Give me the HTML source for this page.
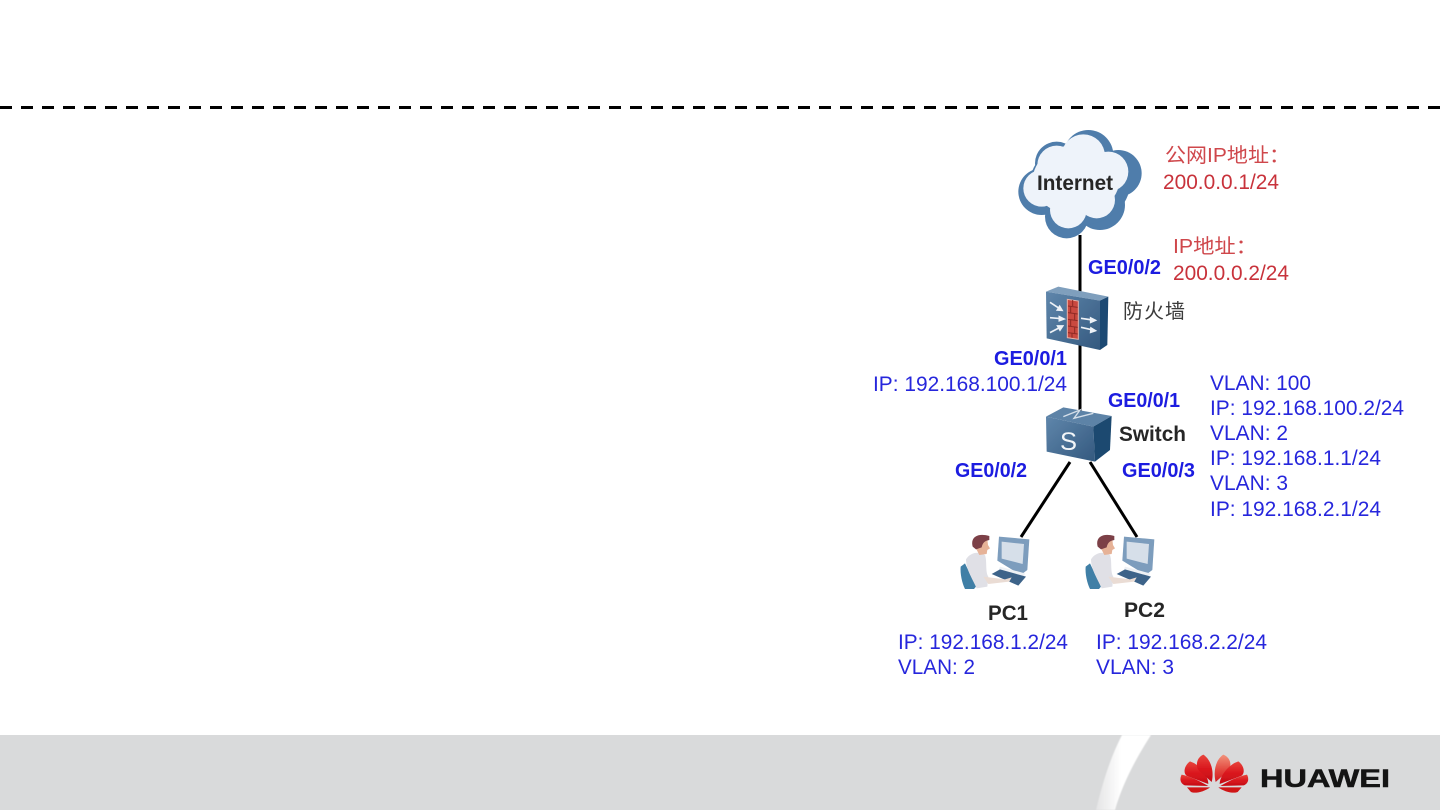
<!DOCTYPE html>
<html lang="zh">
<head>
<meta charset="utf-8">
<title>Network diagram</title>
<style>
html,body{margin:0;padding:0;background:#fff;width:1440px;height:810px;overflow:hidden}
svg{display:block}
text{font-family:"Liberation Sans","Noto Sans CJK SC",sans-serif}
.b{fill:#2626dc;font-size:21px}
.g{fill:#1a1ae0;font-size:20px;font-weight:bold}
.r{fill:#c8323a;font-size:21px}
.c{fill:#cf474c;font-size:20px}
.k{fill:#262626;font-size:21px;font-weight:bold}
</style>
</head>
<body>
<svg width="1440" height="810" viewBox="0 0 1440 810" xmlns="http://www.w3.org/2000/svg">
<defs>
<linearGradient id="front" x1="0" y1="0" x2="1" y2="1"><stop offset="0" stop-color="#5f86ab"/><stop offset="1" stop-color="#34597f"/></linearGradient>
<linearGradient id="red" x1="0" y1="0" x2="0" y2="1"><stop offset="0" stop-color="#e8453c"/><stop offset=".55" stop-color="#d9141c"/><stop offset="1" stop-color="#c40f17"/></linearGradient>
<linearGradient id="peach" x1="0" y1="0" x2="0" y2="1"><stop offset="0" stop-color="#f2937c"/><stop offset=".6" stop-color="#e2413a"/><stop offset="1" stop-color="#d01a20"/></linearGradient>
<linearGradient id="stripe" x1="0" y1="0" x2="1" y2="0"><stop offset="0" stop-color="#e4e4e5"/><stop offset=".45" stop-color="#ffffff"/><stop offset="1" stop-color="#ffffff"/></linearGradient>
<filter id="s" x="-5%" y="-5%" width="110%" height="110%"><feGaussianBlur stdDeviation="0.45"/></filter>
<filter id="t" x="-5%" y="-5%" width="110%" height="110%"><feGaussianBlur stdDeviation="0.3"/></filter>
<g id="pc">
  <path d="M32,140 L45,130 L78,200 L72,207 L45,207 C36,190 30,160 32,140Z" fill="#3f7fa6"/>
  <path d="M48,118 C60,98 85,92 105,105 C112,125 105,155 115,170 L112,200 L80,205 C70,180 48,150 48,118Z" fill="#e0e0e6"/>
  <path d="M147,50 L238,58 L232,150 L212,165 L142,122Z" fill="#7d9dbd"/>
  <path d="M155,65 L222,72 L218,132 L155,116Z" fill="#d6dfe9"/>
  <path d="M150,140 L225,160 L222,170 L146,150Z" fill="#eef1f5"/>
  <path d="M125,162 L150,148 L228,170 L205,197Z" fill="#3d6489"/>
  <path d="M100,170 L165,178 L185,172 L178,185 L115,192Z" fill="#eadcd4"/>
  <path d="M88,60 L112,58 L114,75 L120,85 L112,90 L110,102 L88,105 L78,85Z" fill="#e6b297"/>
  <path d="M68,80 C60,50 85,38 118,48 L118,60 C105,62 98,68 95,82 L78,88Z" fill="#7c3f46"/>
</g>
</defs>

<!-- top dashed rule -->
<line x1="0" y1="107.5" x2="1440" y2="107.5" stroke="#000" stroke-width="3" stroke-dasharray="12 9"/>

<!-- footer -->
<rect x="0" y="735" width="1440" height="75" fill="#d9dadb"/>
<path d="M1122,735 L1151,735 C1136,758 1122,785 1115,810 L1096,810 C1102,785 1110,758 1122,735Z" fill="url(#stripe)" filter="url(#s)"/>

<!-- logo -->
<g transform="translate(1175,748) scale(.3333)" filter="url(#s)">
  <path d="M36,118 L105,118 C90,130 60,138 48,132Z" fill="#cf1219"/>
  <path d="M20,80 C12,95 18,108 30,112 L100,114 C75,100 45,85 20,80Z" fill="url(#red)"/>
  <path d="M45,40 C25,55 25,78 36,84 L100,108 C100,85 75,50 45,40Z" fill="url(#red)"/>
  <path d="M85,20 C62,30 62,58 72,68 L110,102 C118,70 108,35 85,20Z" fill="url(#red)"/>
  <path d="M145,20 C170,30 170,58 160,68 L122,102 C114,70 122,35 145,20Z" fill="url(#peach)"/>
  <path d="M190,40 C210,55 210,78 198,84 L134,108 C134,85 160,50 190,40Z" fill="url(#red)"/>
  <path d="M216,80 C224,95 218,108 206,112 L136,114 C160,100 190,85 216,80Z" fill="url(#red)"/>
  <path d="M200,118 L130,118 C145,130 175,138 188,132Z" fill="#cf1219"/>
</g>
<text x="1260" y="787" font-size="25" font-weight="bold" fill="#141414" stroke="#141414" stroke-width=".5" textLength="130" lengthAdjust="spacingAndGlyphs">HUAWEI</text>

<!-- connectors -->
<line x1="1080" y1="235" x2="1080" y2="292" stroke="#000" stroke-width="3"/>
<line x1="1080" y1="345" x2="1080" y2="412" stroke="#000" stroke-width="3"/>
<line x1="1070" y1="462" x2="1021" y2="537" stroke="#000" stroke-width="3"/>
<line x1="1090" y1="462" x2="1137" y2="537" stroke="#000" stroke-width="3"/>

<!-- cloud: union of lobes -->
<g transform="translate(1000,120) scale(.3333)" filter="url(#s)">
  <g fill="#4f7dab">
    <circle cx="125" cy="215" r="70"/><circle cx="170" cy="130" r="65"/><circle cx="265" cy="105" r="75"/>
    <circle cx="355" cy="160" r="70"/><circle cx="300" cy="255" r="75"/><circle cx="200" cy="290" r="65"/>
    <ellipse cx="240" cy="190" rx="150" ry="125"/>
  </g>
  <g fill="#eef3fa">
    <circle cx="125" cy="205" r="55"/><circle cx="170" cy="135" r="58"/><circle cx="250" cy="108" r="65"/>
    <circle cx="325" cy="155" r="60"/><circle cx="290" cy="240" r="55"/><circle cx="205" cy="270" r="55"/>
    <ellipse cx="228" cy="180" rx="130" ry="105"/>
  </g>
</g>

<!-- firewall -->
<g transform="translate(1000,270) scale(.3333)" filter="url(#s)">
  <path d="M138,65 L175,50 L325,80 L300,92Z" fill="#7f9fbd"/>
  <path d="M138,65 L300,92 L300,240 L140,205Z" fill="url(#front)"/>
  <path d="M300,92 L325,80 L322,225 L300,240Z" fill="#1f4a73"/>
  <path d="M202,88 L235,93 L235,208 L202,203Z" fill="#c9483f" stroke="#e7b3a8" stroke-width="3"/>
  <g stroke="#8f2a25" stroke-width="3" fill="none">
    <path d="M204,108 L233,112 M204,128 L233,132 M204,148 L233,152 M204,168 L233,172 M204,188 L233,192"/>
    <path d="M218,90 V108 M212,110 V128 M224,131 V150 M212,150 V168 M224,172 V190 M216,190 V203"/>
  </g>
  <g stroke="#eef2f7" stroke-width="5" fill="#eef2f7">
    <path d="M150,97 L182,118" fill="none"/><path d="M186,121 L172,120 L179,109Z"/>
    <path d="M150,143 L185,146" fill="none"/><path d="M192,147 L178,152 L178,140Z"/>
    <path d="M150,188 L180,172" fill="none"/><path d="M188,168 L180,180 L173,168Z"/>
    <path d="M243,145 L278,150" fill="none"/><path d="M286,151 L272,157 L272,144Z"/>
    <path d="M243,172 L278,180" fill="none"/><path d="M286,182 L272,187 L273,174Z"/>
  </g>
</g>

<!-- switch -->
<g transform="translate(1000,270) scale(.3333)" filter="url(#s)">
  <path d="M138,440 L190,412 L335,438 L280,470Z" fill="#5d83a7"/>
  <path d="M138,440 L280,470 L285,575 L140,545Z" fill="url(#front)"/>
  <path d="M280,470 L335,438 L330,540 L285,575Z" fill="#1d4970"/>
  <path d="M190,440 L240,420 L222,445 L280,430" fill="none" stroke="#d5dfe9" stroke-width="4"/>
</g>

<!-- PCs -->
<g transform="translate(950,520) scale(.3333)" filter="url(#s)"><use href="#pc"/></g>
<g transform="translate(1075,520) scale(.3333)" filter="url(#s)"><use href="#pc"/></g>

<g filter="url(#t)">
<text x="1060" y="450" font-size="25" fill="#f2f5f8" textLength="17" lengthAdjust="spacingAndGlyphs">S</text>
<text x="1037" y="190" class="k" textLength="76" lengthAdjust="spacingAndGlyphs">Internet</text>

<!-- red labels -->
<text x="1165" y="162" class="c" textLength="125" lengthAdjust="spacingAndGlyphs">公网IP地址：</text>
<text x="1163" y="189" class="r" textLength="116" lengthAdjust="spacingAndGlyphs">200.0.0.1/24</text>
<text x="1173" y="253" class="c" textLength="84" lengthAdjust="spacingAndGlyphs">IP地址：</text>
<text x="1173" y="280" class="r" textLength="116" lengthAdjust="spacingAndGlyphs">200.0.0.2/24</text>

<!-- port labels -->
<text x="1088" y="274" class="g" textLength="73" lengthAdjust="spacingAndGlyphs">GE0/0/2</text>
<text x="994" y="365" class="g" textLength="73" lengthAdjust="spacingAndGlyphs">GE0/0/1</text>
<text x="1108" y="407" class="g" textLength="72" lengthAdjust="spacingAndGlyphs">GE0/0/1</text>
<text x="955" y="477" class="g" textLength="72" lengthAdjust="spacingAndGlyphs">GE0/0/2</text>
<text x="1122" y="477" class="g" textLength="73" lengthAdjust="spacingAndGlyphs">GE0/0/3</text>

<!-- device labels -->
<text x="1123" y="318" fill="#3a3a3a" font-size="20" textLength="62">防火墙</text>
<text x="1119" y="441" class="k" textLength="67" lengthAdjust="spacingAndGlyphs">Switch</text>
<text x="988" y="620" class="k" textLength="40" lengthAdjust="spacingAndGlyphs">PC1</text>
<text x="1124" y="617" class="k" textLength="41" lengthAdjust="spacingAndGlyphs">PC2</text>

<!-- blue labels -->
<text x="873" y="391" class="b" textLength="194" lengthAdjust="spacingAndGlyphs">IP: 192.168.100.1/24</text>
<text x="1210" y="390" class="b" textLength="101" lengthAdjust="spacingAndGlyphs">VLAN: 100</text>
<text x="1210" y="415" class="b" textLength="194" lengthAdjust="spacingAndGlyphs">IP: 192.168.100.2/24</text>
<text x="1210" y="440" class="b" textLength="78" lengthAdjust="spacingAndGlyphs">VLAN: 2</text>
<text x="1210" y="465" class="b" textLength="171" lengthAdjust="spacingAndGlyphs">IP: 192.168.1.1/24</text>
<text x="1210" y="490" class="b" textLength="78" lengthAdjust="spacingAndGlyphs">VLAN: 3</text>
<text x="1210" y="516" class="b" textLength="171" lengthAdjust="spacingAndGlyphs">IP: 192.168.2.1/24</text>
<text x="898" y="649" class="b" textLength="170" lengthAdjust="spacingAndGlyphs">IP: 192.168.1.2/24</text>
<text x="898" y="674" class="b" textLength="77" lengthAdjust="spacingAndGlyphs">VLAN: 2</text>
<text x="1096" y="649" class="b" textLength="171" lengthAdjust="spacingAndGlyphs">IP: 192.168.2.2/24</text>
<text x="1096" y="674" class="b" textLength="78" lengthAdjust="spacingAndGlyphs">VLAN: 3</text>
</g>
</svg>
</body>
</html>
